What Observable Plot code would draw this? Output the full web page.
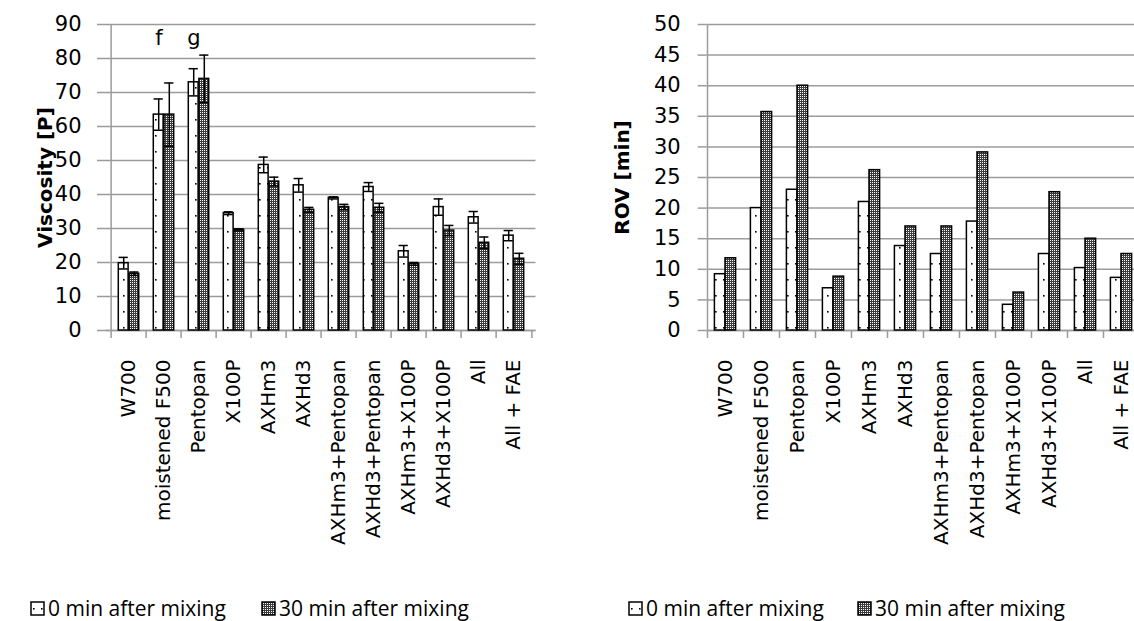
<!DOCTYPE html>
<html>
<head>
<meta charset="utf-8">
<script src="https://cdn.jsdelivr.net/npm/d3@7"></script>
<script src="https://cdn.jsdelivr.net/npm/@observablehq/plot@0.6"></script>
<style>
  html, body { margin: 0; padding: 0; background: #fff; }
  #wrap { position: relative; width: 1134px; height: 621px; overflow: hidden; background: #fff; }
  .chart { position: absolute; top: 0; }
  .legend-item { position: absolute; top: 597px; height: 22px; line-height: 22px; display: flex; align-items: center;
    font-family: "Open Sans", sans-serif; font-size: 21px; color: #000; white-space: nowrap; }
  .legend-item svg { margin-right: 3px; }
</style>
</head>
<body>
<svg width="0" height="0" style="position:absolute">
  <defs>
    <pattern id="pat0" patternUnits="userSpaceOnUse" width="8" height="16">
      <rect width="8" height="16" fill="#fff"></rect>
      <rect x="3" y="7" width="1.6" height="1.6" fill="#000"></rect>
    </pattern>
    <pattern id="pat30" patternUnits="userSpaceOnUse" width="2" height="2">
      <rect width="2" height="2" fill="#3c3c3c"></rect>
      <rect x="0" y="0" width="1" height="1" fill="#fff"></rect>
    </pattern>
  </defs>
</svg>
<div id="wrap"></div>
<script>
// ---------- data ----------
const categories = ["W700", "moistened F500", "Pentopan", "X100P", "AXHm3", "AXHd3",
  "AXHm3+Pentopan", "AXHd3+Pentopan", "AXHm3+X100P", "AXHd3+X100P", "All", "All + FAE"];
const seriesNames = ["0 min after mixing", "30 min after mixing"];

const viscosity0 = [19.8, 63.5, 73.0, 34.5, 48.7, 42.7, 39.0, 42.2, 23.3, 36.3, 33.3, 27.9];
const viscosity0Err = [1.7, 4.6, 4.0, 0.4, 2.3, 2.0, 0.3, 1.3, 1.7, 2.4, 1.7, 1.5];
const viscosity30 = [16.7, 63.5, 74.0, 29.6, 43.8, 35.5, 36.3, 36.1, 19.6, 29.4, 25.8, 21.1];
const viscosity30Err = [0.5, 9.3, 7.0, 0.3, 1.3, 0.7, 0.8, 1.3, 0.4, 1.5, 1.7, 1.6];

const rov0 = [9.2, 20.0, 23.0, 6.9, 21.0, 13.8, 12.5, 17.8, 4.2, 12.5, 10.2, 8.6];
const rov30 = [11.8, 35.7, 40.0, 8.8, 26.2, 17.0, 17.0, 29.1, 6.2, 22.6, 15.0, 12.5];

const viscosityTicks = [0, 10, 20, 30, 40, 50, 60, 70, 80, 90];
const rovTicks = [0, 5, 10, 15, 20, 25, 30, 35, 40, 45, 50];

const letterCategories = ["moistened F500", "Pentopan"];
const letterLabels = ["f", "g"];
const letterValues = [86, 86];

// ---------- chart builder ----------
const GRID = "#9b9b9b";
function makeChart({left, width, marginLeft, marginRight, ticks, yLabel, labelDx, tickPadding,
                    v0, v30, e0, e30, letters}) {
  const height = 580, marginTop = 24, marginBottom = 250;
  const plotW = width - marginLeft - marginRight;
  const plotH = height - marginTop - marginBottom;
  const bw = plotW / categories.length;
  const yMax = ticks[ticks.length - 1];
  const unitsPerPx = yMax / plotH;
  const barW = 10.6;
  const rows = categories.map((c, i) => ({cat: c, v0: v0[i], v30: v30[i],
    e0: e0 ? e0[i] : null, e30: e30 ? e30[i] : null}));

  const marks = [
    Plot.gridY(ticks, {stroke: GRID, strokeOpacity: 1, strokeWidth: 1.5}),
    Plot.axisY(ticks, {tickSize: 9, tickPadding, stroke: GRID, strokeWidth: 1.5, fill: "#000",
      label: null, fontSize: 21}),
    Plot.axisX({tickSize: 0, tickRotate: -90, tickPadding: 29, label: null, fontSize: 20, fill: "#000"}),
    Plot.ruleX([categories[0]], {dx: -bw / 2, stroke: GRID, strokeWidth: 1.5}),
    Plot.ruleX(categories, {x: d => d, dx: -bw / 2, y1: 0, y2: -8 * unitsPerPx, stroke: GRID, strokeWidth: 1.5}),
    Plot.ruleX([categories[categories.length - 1]], {dx: bw / 2, y1: 0, y2: -8 * unitsPerPx, stroke: GRID, strokeWidth: 1.5}),
    Plot.ruleY([0], {stroke: GRID, strokeWidth: 1.5}),
    Plot.barY(rows, {x: "cat", y: "v0", fill: "url(#pat0)", stroke: "#000", strokeWidth: 1.5,
      insetLeft: bw / 2 - barW, insetRight: bw / 2}),
    Plot.barY(rows, {x: "cat", y: "v30", fill: "url(#pat30)", stroke: "#000", strokeWidth: 1.5,
      insetLeft: bw / 2, insetRight: bw / 2 - barW}),
    Plot.text([yLabel], {frameAnchor: "left", textAnchor: "middle", dx: labelDx, rotate: -90,
      fontWeight: "bold", fontSize: 20, fill: "#000"})
  ];
  if (e0) {
    const cap = 10;
    [["v0", "e0", -barW / 2], ["v30", "e30", barW / 2]].forEach(([v, e, off]) => {
      marks.push(Plot.ruleX(rows, {x: "cat", y1: d => d[v] - d[e], y2: d => d[v] + d[e], dx: off,
        stroke: "#000", strokeWidth: 1.5}));
      marks.push(Plot.tickY(rows, {x: "cat", y: d => d[v] + d[e], stroke: "#000", strokeWidth: 1.5,
        insetLeft: bw / 2 + off - cap / 2, insetRight: bw / 2 - off - cap / 2}));
      marks.push(Plot.tickY(rows, {x: "cat", y: d => d[v] - d[e], stroke: "#000", strokeWidth: 1.5,
        insetLeft: bw / 2 + off - cap / 2, insetRight: bw / 2 - off - cap / 2}));
    });
  }
  if (letters) {
    marks.push(Plot.text(letters, {x: "cat", y: "y", text: "label", dx: -5, fontSize: 21, fill: "#000"}));
  }

  const svg = Plot.plot({
    width, height, marginTop, marginBottom, marginLeft, marginRight,
    style: {fontFamily: "'DejaVu Sans', sans-serif", fontSize: "20px", color: "#000", background: "transparent", overflow: "visible"},
    x: {domain: categories, padding: 0, label: null},
    y: {domain: [0, yMax], label: null},
    marks
  });
  svg.classList.add("chart");
  svg.style.left = left + "px";
  document.getElementById("wrap").appendChild(svg);
}

makeChart({left: 0, width: 560, marginLeft: 106, marginRight: 24.5, ticks: viscosityTicks,
  yLabel: "Viscosity [P]", labelDx: -61, tickPadding: 16,
  v0: viscosity0, v30: viscosity30, e0: viscosity0Err, e30: viscosity30Err,
  letters: letterCategories.map((c, i) => ({cat: c, label: letterLabels[i], y: letterValues[i]}))});

makeChart({left: 560, width: 600, marginLeft: 146.7, marginRight: 21.3, ticks: rovTicks,
  yLabel: "ROV [min]", labelDx: -85, tickPadding: 17.5,
  v0: rov0, v30: rov30});

// ---------- legends ----------
function legend(x0, x1) {
  const wrap = document.getElementById("wrap");
  [[x0, "url(#pat0)"], [x1, "url(#pat30)"]].forEach(([x, fill], i) => {
    const div = document.createElement("div");
    div.className = "legend-item";
    div.style.left = x + "px";
    div.innerHTML = `<svg width="15" height="15"><rect x="1" y="1" width="13" height="13" fill="${fill}" stroke="#000" stroke-width="1.5"></rect></svg>${seriesNames[i]}`;
    wrap.appendChild(div);
  });
}
legend(30, 261);
legend(628, 857);
</script>
</body>
</html>
